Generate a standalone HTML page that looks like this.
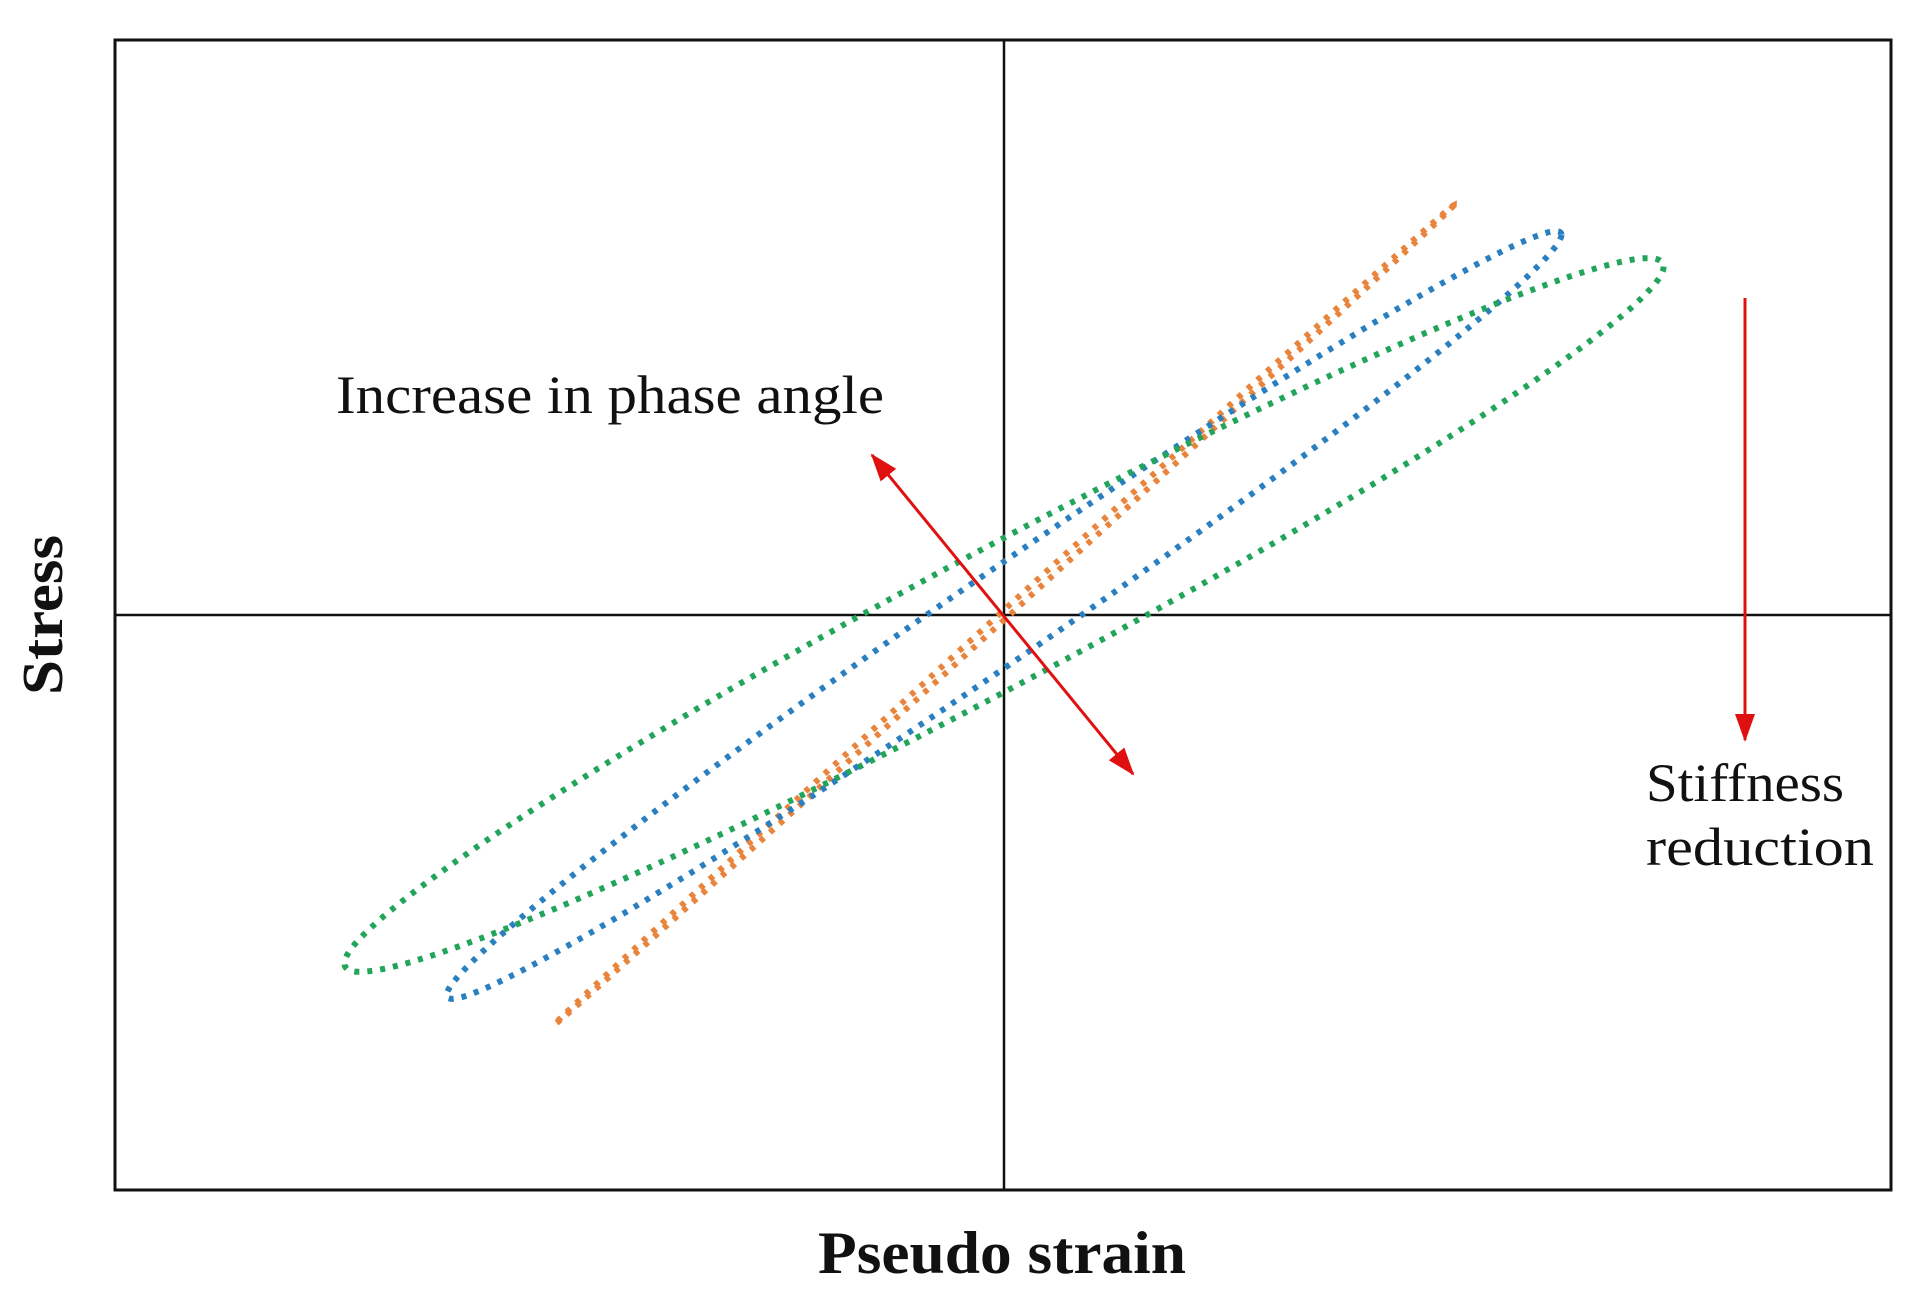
<!DOCTYPE html>
<html><head><meta charset="utf-8"><style>
html,body{margin:0;padding:0;background:#fff;}
svg{display:block;}
text{font-family:"Liberation Serif",serif;fill:#111;}
</style></head><body>
<svg id="chart" width="1920" height="1306" viewBox="0 0 1920 1306">
<rect x="115" y="40" width="1776" height="1150" fill="none" stroke="#111" stroke-width="3"/>
<line x1="1004" y1="40" x2="1004" y2="1190" stroke="#111" stroke-width="2.5"/>
<line x1="115" y1="615" x2="1891" y2="615" stroke="#111" stroke-width="2.5"/>
<g id="loops"></g>
<defs>
<marker id="ah2" markerWidth="28" markerHeight="28" refX="26" refY="14" orient="auto-start-reverse" markerUnits="userSpaceOnUse" viewBox="0 0 28 28">
<path d="M0,4 L28,14 L0,24 Z" fill="#e01010"/></marker>
</defs>
<line x1="872" y1="455" x2="1133" y2="774" stroke="#e01010" stroke-width="3" marker-start="url(#ah2)" marker-end="url(#ah2)"/>
<line x1="1745" y1="298" x2="1745" y2="740" stroke="#e01010" stroke-width="3" marker-end="url(#ah2)"/>
<text x="336" y="413" font-size="54" textLength="548" lengthAdjust="spacingAndGlyphs">Increase in phase angle</text>
<text x="1646" y="801" font-size="54" textLength="198" lengthAdjust="spacingAndGlyphs">Stiffness</text>
<text x="1646" y="865" font-size="54" textLength="228" lengthAdjust="spacingAndGlyphs">reduction</text>
<text x="818" y="1273" font-size="60" font-weight="bold" textLength="368" lengthAdjust="spacingAndGlyphs">Pseudo strain</text>
<text transform="translate(62,615) rotate(-90)" x="-80" font-size="58" font-weight="bold" textLength="160" lengthAdjust="spacingAndGlyphs">Stress</text>
</svg>
<script>
const seriesNames = ["orange-loop", "blue-loop", "green-loop"];
const strainAmp = [0.506, 0.627, 0.742];
const stressAmp = [0.712, 0.667, 0.62];
const phaseDeg = [0.7, 8.0, 12.5];
const colors = ["#e8843c", "#2a7fc0", "#22a55a"];

const xScale = v => 1004 + v * 889;
const yScale = v => 615 - v * 575.5;

const g = document.getElementById('loops');
for (let s = 0; s < seriesNames.length; s++) {
  const phi = phaseDeg[s] * Math.PI / 180;
  let d = "";
  for (let i = 0; i <= 360; i++) {
    const t = i * Math.PI / 180;
    const x = xScale(strainAmp[s] * Math.cos(t));
    const y = yScale(stressAmp[s] * Math.cos(t + phi));
    d += (i ? "L" : "M") + x.toFixed(1) + "," + y.toFixed(1);
  }
  const p = document.createElementNS("http://www.w3.org/2000/svg", "path");
  p.setAttribute("d", d + "Z");
  p.setAttribute("fill", "none");
  p.setAttribute("stroke", colors[s]);
  p.setAttribute("stroke-width", "6");
  p.setAttribute("stroke-dasharray", "5 8");
  
  
  g.appendChild(p);
}
</script>
</body></html>
